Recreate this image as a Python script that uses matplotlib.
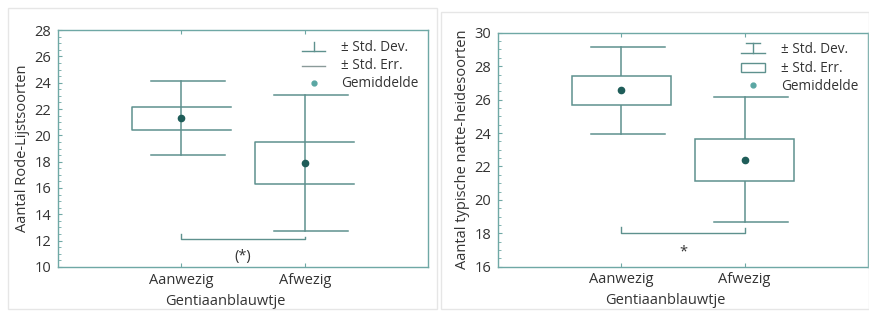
import matplotlib.pyplot as plt
from matplotlib.legend_handler import HandlerBase
from matplotlib.lines import Line2D
from matplotlib.patches import Rectangle
from matplotlib.ticker import MultipleLocator

plt.rcParams["font.family"] = ["Open Sans", "DejaVu Sans"]

# data
categories = ["Aanwezig", "Afwezig"]

rl_mean = [21.3, 17.9]
rl_se = [0.88, 1.63]
rl_sd = [2.8, 5.13]

nh_mean = [26.55, 22.4]
nh_se = [0.87, 1.27]
nh_sd = [2.6, 3.75]

# significance brackets: (level, tick top left, tick top right, label, label y)
rl_sig = (12.1, 12.5, 12.3, "(*)", 10.8)
nh_sig = (18.0, 18.4, 18.3, "*", 16.9)

LINE = "#5e918e"
SPINE = "#6fa8a5"
DOT = "#1f5d59"
TEXT = "#333333"
FS = 10.5


class SDHandler(HandlerBase):
    def __init__(self, style):
        super().__init__()
        self.style = style

    def create_artists(self, legend, orig_handle, xd, yd, w, h, fs, trans):
        x0, x1 = -xd, -xd + w
        xm = (x0 + x1) / 2
        if self.style == "up":
            arts = [Line2D([x0, x1], [0, 0]), Line2D([xm, xm], [0, h * 0.9])]
        else:
            arts = [Line2D([x0, x1], [0, 0]), Line2D([xm, xm], [0, h * 1.1]),
                    Line2D([x0 + w * 0.2, x1 - w * 0.2], [h * 1.1, h * 1.1])]
        for a in arts:
            a.set_color(LINE)
            a.set_linewidth(1)
            a.set_transform(trans)
        return arts


class SEHandler(HandlerBase):
    def __init__(self, style):
        super().__init__()
        self.style = style

    def create_artists(self, legend, orig_handle, xd, yd, w, h, fs, trans):
        if self.style == "line":
            a = Line2D([-xd, -xd + w], [h * 0.3, h * 0.3], color="#8a9a99", lw=1)
        else:
            a = Rectangle((-xd, -h * 0.05), w, h * 1.0, facecolor="none",
                          edgecolor=LINE, lw=1)
        a.set_transform(trans)
        return [a]


class DotHandler(HandlerBase):
    def create_artists(self, legend, orig_handle, xd, yd, w, h, fs, trans):
        a = Line2D([-xd + w / 2], [h / 2], marker="o", ms=3.5,
                   color="#5aa6a3", ls="none")
        a.set_transform(trans)
        return [a]


def draw_panel(ax, means, ses, sds, sig, ylim, ylabel, open_box, legend_style):
    xs = [1, 2]
    box_hw = 0.4
    cap_hw = 0.3
    for x, m, se, sd in zip(xs, means, ses, sds):
        # std dev whisker + caps
        ax.plot([x, x], [m - sd, m + sd], color=LINE, lw=1.1, zorder=2)
        ax.plot([x - cap_hw + 0.05, x + cap_hw + 0.05], [m + sd, m + sd],
                color=LINE, lw=1.1)
        ax.plot([x - cap_hw + 0.05, x + cap_hw + 0.05], [m - sd, m - sd],
                color=LINE, lw=1.1)
        # std err box
        if open_box:
            ax.plot([x + box_hw, x - box_hw, x - box_hw, x + box_hw],
                    [m + se, m + se, m - se, m - se], color=LINE, lw=1.1)
        else:
            ax.add_patch(Rectangle((x - box_hw, m - se), 2 * box_hw, 2 * se,
                                   facecolor="white", edgecolor=LINE, lw=1.1,
                                   zorder=3))
        ax.plot([x], [m], "o", color=DOT, ms=4.5, zorder=5)

    lvl, tl, tr, lab, laby = sig
    ax.plot([xs[0], xs[0], xs[1], xs[1]], [tl, lvl, lvl, tr], color=LINE, lw=1)
    ax.text(sum(xs) / 2, laby, lab, ha="center", va="center", fontsize=FS,
            color=TEXT)

    ax.set_xlim(0, 3)
    ax.set_ylim(*ylim)
    ax.set_xticks(xs)
    ax.set_xticklabels(categories)
    ax.yaxis.set_major_locator(MultipleLocator(2))
    ax.yaxis.set_minor_locator(MultipleLocator(0.5))
    ax.tick_params(axis="y", which="major", direction="in", length=3,
                   color=SPINE, labelsize=FS, labelcolor=TEXT, pad=5)
    ax.tick_params(axis="y", which="minor", direction="in", length=2,
                   color=SPINE)
    ax.tick_params(axis="x", direction="in", length=3, color=SPINE, top=True,
                   labelsize=FS, labelcolor=TEXT, pad=4)
    for s in ax.spines.values():
        s.set_color(SPINE)
        s.set_linewidth(1)
    ax.set_ylabel(ylabel, fontsize=FS, color=TEXT, labelpad=3)
    ax.set_xlabel("Gentiaanblauwtje", fontsize=FS, color=TEXT)
    ax.xaxis.set_label_coords(0.453, -0.112)

    handles = [Line2D([], []), Line2D([], []), Line2D([], [])]
    labels = ["± Std. Dev.", "± Std. Err.", "Gemiddelde"]
    se_style = "line" if open_box else "box"
    handler_map = {handles[0]: SDHandler(legend_style),
                   handles[1]: SEHandler(se_style),
                   handles[2]: DotHandler()}
    ax.legend(handles, labels, handler_map=handler_map, loc="upper right",
              frameon=False, fontsize=9.8, handlelength=1.75, handletextpad=1.15,
              labelspacing=0.25, borderaxespad=0.3, labelcolor=TEXT)


fig = plt.figure(figsize=(8.7, 3.11), dpi=100)

# light frames around the two scanned panels
fig.patches.append(Rectangle((8 / 870, 2 / 311), 429 / 870, 301 / 311,
                             transform=fig.transFigure, fill=False,
                             edgecolor="#e6e6e6", lw=1))
fig.patches.append(Rectangle((441 / 870, 2 / 311), 428 / 870, 297 / 311,
                             transform=fig.transFigure, fill=False,
                             edgecolor="#e6e6e6", lw=1))

ax1 = fig.add_axes([0.0667, 0.1415, 0.4253, 0.762])
ax2 = fig.add_axes([0.5728, 0.1424, 0.4246, 0.7524])

draw_panel(ax1, rl_mean, rl_se, rl_sd, rl_sig, (10, 28),
           "Aantal Rode-Lijstsoorten", True, "up")
draw_panel(ax2, nh_mean, nh_se, nh_sd, nh_sig, (16, 30),
           "Aantal typische natte-heidesoorten", False, "cap")

fig.savefig("out.png", dpi=100)
